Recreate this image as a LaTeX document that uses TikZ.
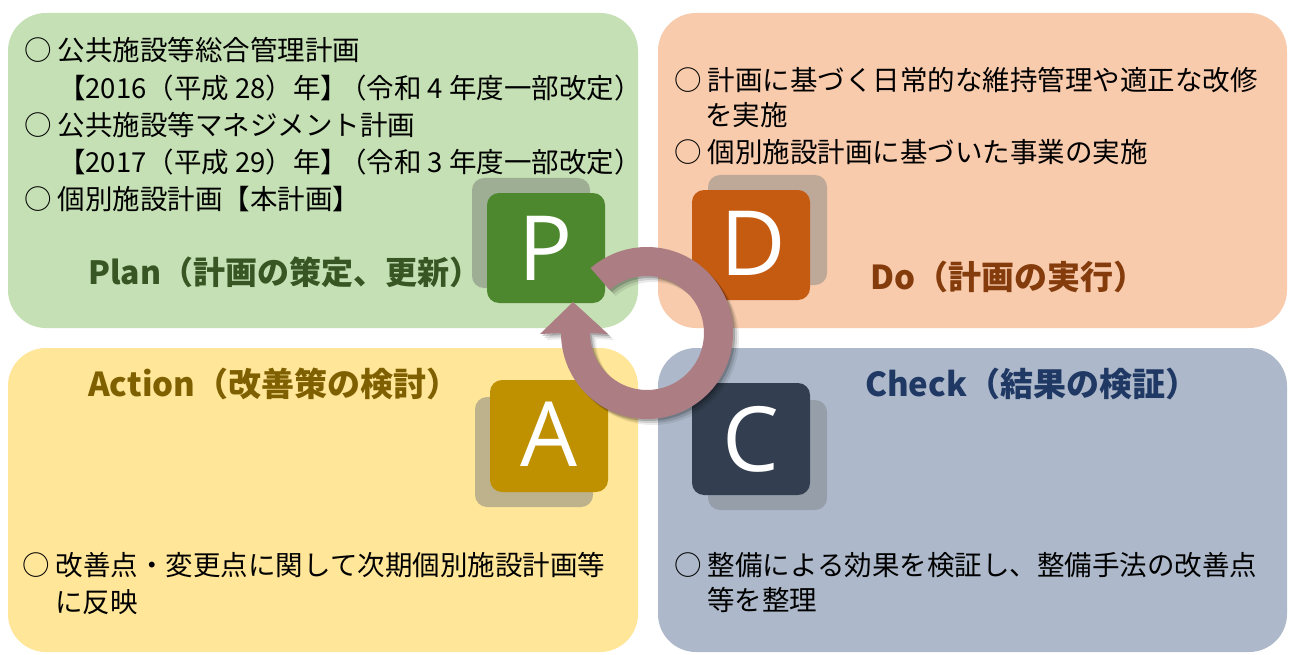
\documentclass[tikz,border=0pt]{standalone}
\usepackage{fontspec}
\setmainfont{Noto Sans CJK JP}
\newfontfamily\letterfont{Open Sans}
\usetikzlibrary{calc}
\definecolor{pgreen}{RGB}{197,224,180}
\definecolor{porange}{RGB}{248,203,173}
\definecolor{pyellow}{RGB}{255,230,153}
\definecolor{pblue}{RGB}{173,185,202}
\definecolor{bgreen}{RGB}{78,136,46}
\definecolor{borange}{RGB}{197,90,17}
\definecolor{bgold}{RGB}{191,144,0}
\definecolor{bnavy}{RGB}{51,63,80}
\definecolor{sgreen}{RGB}{158,174,148}
\definecolor{sorange}{RGB}{190,168,152}
\definecolor{sgold}{RGB}{190,178,140}
\definecolor{snavy}{RGB}{150,158,170}
\definecolor{tgreen}{RGB}{55,86,35}
\definecolor{tbrown}{RGB}{132,60,12}
\definecolor{tgold}{RGB}{127,96,0}
\definecolor{tnavy}{RGB}{31,56,100}
\definecolor{ringc}{RGB}{172,126,132}
\tikzset{
  panel/.style={fill=#1, draw=none, rounded corners=38pt},
  letterbox/.style={fill=#1, draw=none, rounded corners=12pt},
  bodytext/.style={anchor=west, inner sep=0pt, font=\fontsize{27.5}{33}\selectfont, text=black},
  titletext/.style={anchor=west, inner sep=0pt, font=\fontsize{33}{38}\selectfont\bfseries, text=#1},
  letter/.style={inner sep=0pt, text=white, font=\letterfont\fontsize{90}{90}\selectfont}
}
\begin{document}
\begin{tikzpicture}[x=1pt,y=-1pt]
\useasboundingbox (0,0) rectangle (1289,655);
\fill[white] (0,0) rectangle (1289,655);
% panels
\fill[panel=pgreen] (8,13) rectangle (638,328);
\fill[panel=porange] (658,13) rectangle (1287,328);
\fill[panel=pyellow] (8,348) rectangle (638,652);
\fill[panel=pblue] (658,348) rectangle (1287,652);
% Plan text
\node[bodytext] (p1) at (24,50) {○ 公共施設等総合管理計画};
\node[bodytext] (p2) at (58,88) {【2016（平成 28）年】\hspace{-0.33em}（令和 4 年度一部改定）};
\node[bodytext] (p3) at (24,125) {○ 公共施設等マネジメント計画};
\node[bodytext] (p4) at (58,162) {【2017（平成 29）年】\hspace{-0.33em}（令和 3 年度一部改定）};
\node[bodytext] (p5) at (24,199) {○ 個別施設計画【本計画】};
\node[titletext=tgreen, font=\fontsize{32}{38}\selectfont\bfseries] (pt) at (88,272) {Plan（計画の策定、更新）};
% Do text
\node[bodytext] (d1) at (674,80) {○ 計画に基づく日常的な維持管理や適正な改修};
\node[bodytext] (d2) at (705,115) {を実施};
\node[bodytext] (d3) at (674,152) {○ 個別施設計画に基づいた事業の実施};
\node[titletext=tbrown] (dt) at (870,277) {Do（計画の実行）};
% Action text
\node[titletext=tgold] (at) at (88,384) {Action（改善策の検討）};
\node[bodytext] (a1) at (22,565) {○ 改善点・変更点に関して次期個別施設計画等};
\node[bodytext] (a2) at (55,602) {に反映};
% Check text
\node[titletext=tnavy] (ct) at (865,384) {Check（結果の検証）};
\node[bodytext] (c1) at (674,565) {○ 整備による効果を検証し、整備手法の改善点};
\node[bodytext] (c2) at (707,600) {等を整理};
% letter boxes
\fill[letterbox=sgreen] (472,178) rectangle (590,288);
\fill[letterbox=bgreen] (487,193) rectangle (605,303);
\node[letter] (P) at (546,248) {P};
\fill[letterbox=sorange] (708,175) rectangle (827,285);
\fill[letterbox=borange] (692,190) rectangle (810,300);
\node[letter] (D) at (753,243) {D};
\fill[letterbox=sgold] (475,397) rectangle (593,507);
\fill[letterbox=bgold] (490,380) rectangle (608,492);
\node[letter] (A) at (549,434) {A};
\fill[letterbox=snavy] (708,400) rectangle (827,510);
\fill[letterbox=bnavy] (692,383) rectangle (810,495);
\node[letter] (C) at (751,439) {C};
% cycle arrow
\coordinate (rc) at (647,333);
\foreach \d/\o in {6/0.08,4/0.12,2/0.18}{
\begin{scope}[shift={($(rc)+(\d,\d)$)}]
\fill[black, opacity=\o] (-131:86) arc[start angle=-131, end angle=180, radius=86]
  -- (-107,1) -- (-74,-31) -- (-39,1) -- (180:57)
  arc[start angle=180, end angle=-131, radius=57] -- cycle;
\end{scope}}
\begin{scope}[shift={(rc)}]
\fill[ringc] (-131:86) arc[start angle=-131, end angle=180, radius=86]
  -- (-107,1) -- (-74,-31) -- (-39,1) -- (180:57)
  arc[start angle=180, end angle=-131, radius=57] -- cycle;
\end{scope}
\end{tikzpicture}
\end{document}
